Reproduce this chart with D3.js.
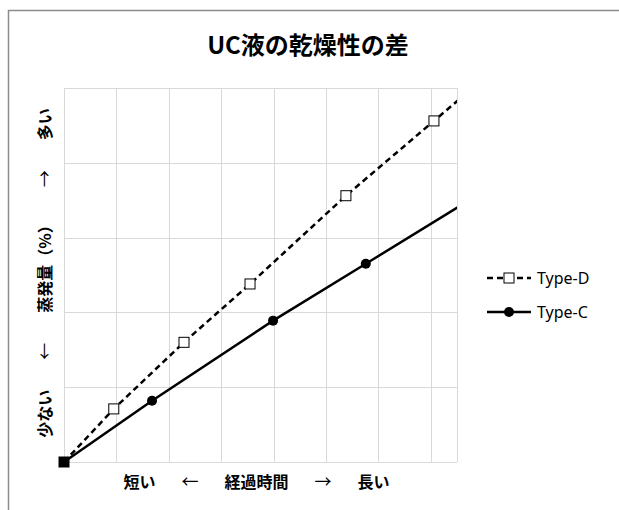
<!DOCTYPE html>
<html lang="ja">
<head>
<meta charset="utf-8">
<title>UC液の乾燥性の差</title>
<script src="https://cdn.jsdelivr.net/npm/d3@7"></script>
<style>
  body { margin: 0; background: #fff; }
  .grid line { stroke: #d9d9d9; stroke-width: 1; shape-rendering: crispEdges; }
  .grid path { display: none; }
  .title { font-family: "Noto Sans CJK JP", sans-serif; font-weight: bold; font-size: 24px; fill: #000; }
  .axis-label { font-family: "Noto Sans CJK JP", sans-serif; font-weight: bold; font-size: 16px; fill: #000; }
  .axis-label .arrow { font-weight: normal; font-size: 17px; }
  .legend text { font-family: "Noto Sans", "Noto Sans CJK JP", sans-serif; font-size: 16px; fill: #000; }
</style>
</head>
<body>
<script>
// chart values (x: elapsed time, y: evaporation, arbitrary units)
var seriesNames = ["Type-D", "Type-C"];
var typeDx = [0, 0.95, 2.29, 3.55, 5.38, 7.06, 8.7];
var typeDy = [0, 0.71, 1.60, 2.38, 3.56, 4.56, 5.54];
var typeCx = [0, 1.68, 3.99, 5.76, 8.5];
var typeCy = [0, 0.82, 1.89, 2.65, 3.83];
var xTicks = [0, 1, 2, 3, 4, 5, 6, 7];
var yTicks = [0, 1, 2, 3, 4, 5];
var titleText = "UC液の乾燥性の差";
var xLabelParts = ["短い", "←", "経過時間", "→", "長い"];
var yLabelParts = ["少ない", "←", "蒸発量（%）", "→", "多い"];

var w = 619, h = 510;
var margin = { left: 64, right: 162, top: 88, bottom: 48 };

var svg = d3.select("body").append("svg")
  .attr("width", w)
  .attr("height", h);

// outer chart border
svg.append("rect")
  .attr("x", 8.5).attr("y", 10.5)
  .attr("width", w).attr("height", h)
  .attr("fill", "#fff")
  .attr("stroke", "#8c8c8c")
  .attr("stroke-width", 1.5);

var xScale = d3.scaleLinear()
  .domain([0, 7.5])
  .range([margin.left, w - margin.right]);

var yScale = d3.scaleLinear()
  .domain([0, 5])
  .range([h - margin.bottom, margin.top]);

// gridlines
svg.append("g")
  .attr("class", "grid")
  .attr("transform", "translate(0," + (h - margin.bottom) + ")")
  .call(d3.axisBottom(xScale).tickValues(xTicks.concat([7.5]))
    .tickSize(-(h - margin.top - margin.bottom)).tickFormat(""));

svg.append("g")
  .attr("class", "grid")
  .attr("transform", "translate(" + margin.left + ",0)")
  .call(d3.axisLeft(yScale).tickValues(yTicks)
    .tickSize(-(w - margin.left - margin.right)).tickFormat(""));

svg.append("clipPath").attr("id", "plot-clip")
  .append("rect")
  .attr("x", margin.left - 8).attr("y", margin.top)
  .attr("width", w - margin.left - margin.right + 8)
  .attr("height", h - margin.top - margin.bottom + 8);

var plot = svg.append("g").attr("clip-path", "url(#plot-clip)");
svg.append("clipPath").attr("id", "line-clip")
  .append("rect")
  .attr("x", margin.left).attr("y", margin.top)
  .attr("width", w - margin.left - margin.right)
  .attr("height", h - margin.top - margin.bottom);

var dataD = typeDx.map(function (x, i) { return { x: x, y: typeDy[i] }; });
var dataC = typeCx.map(function (x, i) { return { x: x, y: typeCy[i] }; });

var line = d3.line()
  .x(function (d) { return xScale(d.x); })
  .y(function (d) { return yScale(d.y); });

plot.append("path")
  .datum(dataD)
  .attr("clip-path", "url(#line-clip)")
  .attr("fill", "none")
  .attr("stroke", "#000")
  .attr("stroke-width", 2.5)
  .attr("stroke-dasharray", "6,4")
  .attr("d", line);

plot.append("path")
  .datum(dataC)
  .attr("clip-path", "url(#line-clip)")
  .attr("fill", "none")
  .attr("stroke", "#000")
  .attr("stroke-width", 2.5)
  .attr("d", line);

var inDomain = function (d) { return d.x <= 7.5; };

plot.selectAll("rect.mk-d")
  .data(dataD.filter(inDomain))
  .enter().append("rect")
  .attr("class", "mk-d")
  .attr("x", function (d) { return xScale(d.x) - 5; })
  .attr("y", function (d) { return yScale(d.y) - 5; })
  .attr("width", 10).attr("height", 10)
  .attr("fill", function (d, i) { return i === 0 ? "#000" : "#fff"; })
  .attr("stroke", "#000")
  .attr("stroke-width", 1);

plot.selectAll("circle.mk-c")
  .data(dataC.filter(inDomain))
  .enter().append("circle")
  .attr("class", "mk-c")
  .attr("cx", function (d) { return xScale(d.x); })
  .attr("cy", function (d) { return yScale(d.y); })
  .attr("r", 5)
  .attr("fill", "#000");

// title and axis labels
svg.append("text")
  .attr("class", "title")
  .attr("x", 308).attr("y", 54)
  .attr("text-anchor", "middle")
  .text(titleText);

// label made of words spaced apart
function spacedLabel(sel, parts, gap) {
  sel.selectAll("tspan")
    .data(parts)
    .enter().append("tspan")
    .attr("class", function (d) { return d.length === 1 ? "arrow" : null; })
    .attr("dx", function (d, i) { return i === 0 ? 0 : gap; })
    .text(function (d) { return d; });
}

svg.append("text")
  .attr("class", "axis-label")
  .attr("x", (xScale.range()[0] + xScale.range()[1]) / 2 - 4)
  .attr("y", 488)
  .attr("text-anchor", "middle")
  .call(spacedLabel, xLabelParts, 26);

svg.append("text")
  .attr("class", "axis-label")
  .attr("transform", "translate(51," + ((yScale.range()[0] + yScale.range()[1]) / 2 - 2) + ") rotate(-90)")
  .attr("text-anchor", "middle")
  .call(spacedLabel, yLabelParts, 30);

// legend
var legend = svg.append("g").attr("class", "legend")
  .attr("transform", "translate(487,0)");

var legendRows = legend.selectAll("g")
  .data(seriesNames)
  .enter().append("g")
  .attr("transform", function (d, i) { return "translate(0," + (278 + i * 34) + ")"; });

legendRows.append("line")
  .attr("x1", 0).attr("x2", 44)
  .attr("stroke", "#000")
  .attr("stroke-width", 2.5)
  .attr("stroke-dasharray", function (d, i) { return i === 0 ? "6,4" : null; });

legendRows.filter(function (d, i) { return i === 0; })
  .append("rect")
  .attr("x", 17).attr("y", -5)
  .attr("width", 10).attr("height", 10)
  .attr("fill", "#fff").attr("stroke", "#000");

legendRows.filter(function (d, i) { return i === 1; })
  .append("circle")
  .attr("cx", 22).attr("r", 5)
  .attr("fill", "#000");

legendRows.append("text")
  .attr("x", 50).attr("y", 6)
  .text(function (d) { return d; });
</script>
</body>
</html>
